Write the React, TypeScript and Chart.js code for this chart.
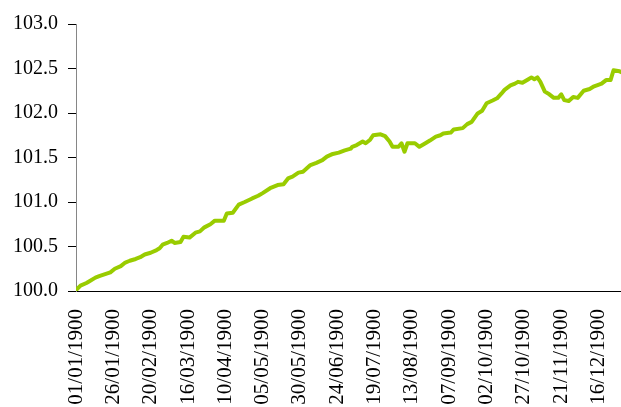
import React, { useEffect, useRef } from "react";
import { Chart, registerables } from "chart.js";

Chart.register(...registerables);

// Day index from 01/01/1900 (Excel serial - 1)
const days = [0, 3, 7, 9, 13, 16, 23, 26, 30, 33, 36, 40, 43, 46, 50, 54, 56, 58, 61, 64, 66, 70, 72, 76, 80, 83, 86, 90, 93, 99, 101, 105, 109, 113, 118, 122, 125, 130, 135, 139, 142, 145, 149, 152, 157, 161, 165, 168, 172, 176, 180, 184, 185, 188, 192, 194, 197, 199, 204, 207, 210, 212, 216, 218, 220, 222, 227, 230, 234, 237, 241, 244, 246, 251, 253, 259, 262, 265, 269, 272, 275, 279, 282, 285, 287, 291, 294, 296, 299, 303, 305, 307, 309, 311, 314, 317, 320, 323, 325, 327, 330, 333, 336, 340, 344, 347, 352, 355, 358, 360, 364, 365];
const values = [100.01, 100.06, 100.09, 100.11, 100.15, 100.17, 100.21, 100.25, 100.28, 100.32, 100.34, 100.36, 100.38, 100.41, 100.43, 100.46, 100.48, 100.52, 100.54, 100.565, 100.54, 100.55, 100.61, 100.6, 100.655, 100.67, 100.715, 100.75, 100.79, 100.79, 100.87, 100.88, 100.97, 101.0, 101.04, 101.07, 101.1, 101.155, 101.19, 101.2, 101.265, 101.285, 101.33, 101.34, 101.415, 101.44, 101.47, 101.51, 101.54, 101.555, 101.58, 101.6, 101.62, 101.64, 101.68, 101.66, 101.7, 101.75, 101.76, 101.74, 101.68, 101.62, 101.62, 101.66, 101.565, 101.66, 101.66, 101.62, 101.66, 101.69, 101.735, 101.75, 101.77, 101.78, 101.815, 101.83, 101.875, 101.9, 101.995, 102.025, 102.11, 102.14, 102.165, 102.22, 102.26, 102.31, 102.33, 102.35, 102.34, 102.38, 102.4, 102.38, 102.4, 102.35, 102.24, 102.21, 102.17, 102.17, 102.21, 102.145, 102.135, 102.18, 102.17, 102.25, 102.27, 102.3, 102.33, 102.37, 102.37, 102.48, 102.47, 102.46];

const tickDays = [0, 25, 50, 75, 100, 125, 150, 175, 200, 225, 250, 275, 300, 325, 350];
const tickLabels = ["01/01/1900", "26/01/1900", "20/02/1900", "16/03/1900", "10/04/1900", "05/05/1900", "30/05/1900", "24/06/1900", "19/07/1900", "13/08/1900", "07/09/1900", "02/10/1900", "27/10/1900", "21/11/1900", "16/12/1900"];

const FONT = "'Liberation Serif', 'DejaVu Serif', serif";

export default function App() {
  const ref = useRef<HTMLCanvasElement | null>(null);
  useEffect(() => {
    if (!ref.current) return;
    const chart = new Chart(ref.current, {
      type: "line",
      data: {
        datasets: [
          {
            data: days.map((d, i) => ({ x: d, y: values[i] })),
            borderColor: "#99cc00",
            borderWidth: 4,
            pointRadius: 0,
            tension: 0,
            borderJoinStyle: "round",
            borderCapStyle: "round",
            fill: false,
          },
        ],
      },
      options: {
        animation: false,
        responsive: false,
        events: [],
        layout: { padding: { top: 24, left: 0, right: 0, bottom: 0 } },
        plugins: { legend: { display: false }, tooltip: { enabled: false } },
        scales: {
          x: {
            type: "linear",
            min: 0,
            max: 365,
            grid: { display: false },
            border: { display: true, color: "#000", width: 1 },
            afterBuildTicks: (scale: any) => {
              scale.ticks = tickDays.map((v) => ({ value: v }));
            },
            afterFit: (scale: any) => {
              scale.height = 116;
              scale.paddingLeft = 0;
              scale.paddingRight = 0;
            },
            ticks: {
              autoSkip: false,
              minRotation: 90,
              maxRotation: 90,
              padding: 10,
              color: "#000",
              font: { family: FONT, size: 21 },
              callback: (_v: any, i: number) => tickLabels[i],
            },
          },
          y: {
            min: 100,
            max: 103,
            grid: { drawOnChartArea: false, color: "#000", tickLength: 8 },
            border: { display: true, color: "#868686", width: 1 },
            afterFit: (scale: any) => {
              scale.width = 76;
            },
            ticks: {
              stepSize: 0.5,
              padding: 10,
              color: "#000",
              font: { family: FONT, size: 20 },
              callback: (v: any) => Number(v).toFixed(1),
            },
          },
        },
      },
    });
    return () => chart.destroy();
  }, []);
  return (
    <div style={{ position: "absolute", left: 0, top: 0, width: 621, height: 407, overflow: "hidden", background: "#fff" }}>
      <canvas ref={ref} width={621} height={407} style={{ display: "block" }} />
    </div>
  );
}
